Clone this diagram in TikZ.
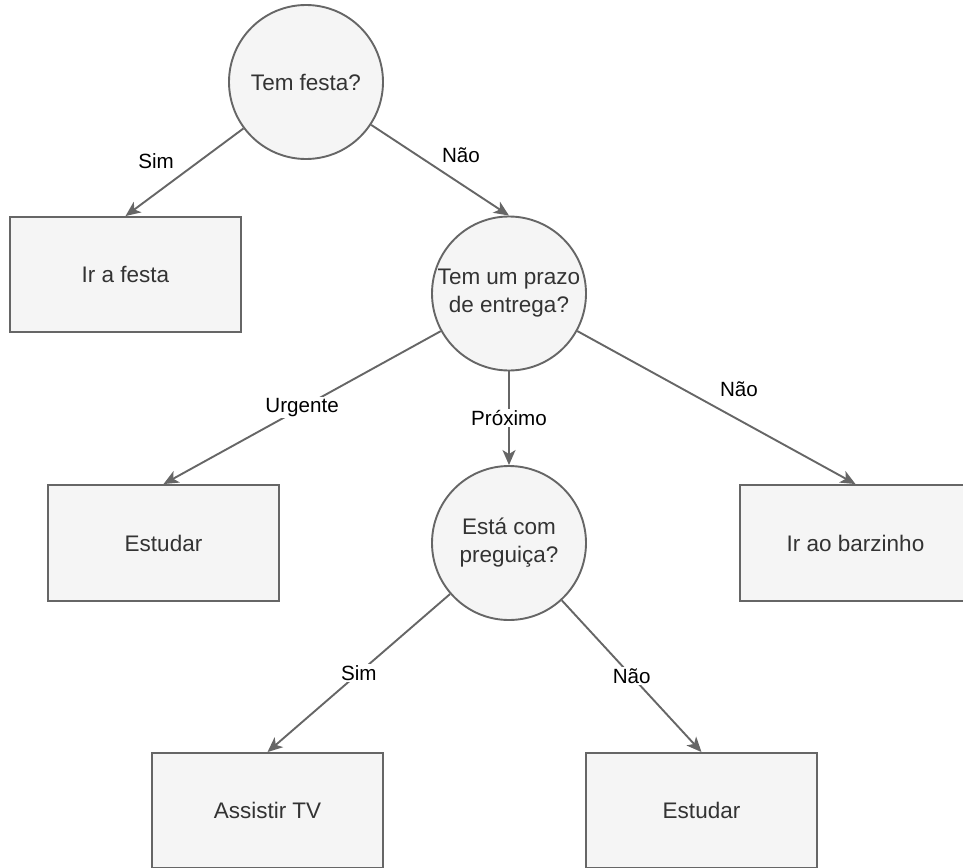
\documentclass[tikz,border=0pt]{standalone}
\usepackage{fontspec}
\setmainfont{Liberation Sans}
\usetikzlibrary{arrows.meta}
\definecolor{boxfill}{HTML}{F5F5F5}
\definecolor{boxline}{HTML}{666666}
\definecolor{boxtext}{HTML}{333333}
\tikzset{
  decision/.style={circle, draw=boxline, fill=boxfill, line width=1.9pt, minimum size=154pt, inner sep=0pt,
    text=boxtext, font=\fontsize{22.5pt}{28pt}\selectfont, align=center},
  action/.style={rectangle, draw=boxline, fill=boxfill, line width=1.9pt, minimum width=231pt, minimum height=115pt,
    inner sep=0pt, text=boxtext, font=\fontsize{22.5pt}{28pt}\selectfont, align=center},
  conn/.style={draw=boxline, line width=1.9pt, -{Stealth[length=15pt,width=13pt,inset=4pt]}},
  lbl/.style={text=black, font=\fontsize{20.6pt}{25pt}\selectfont, inner sep=1.5pt},
  onlbl/.style={lbl, fill=white}
}
\begin{document}
\begin{tikzpicture}[x=1pt,y=-1pt]
\useasboundingbox (0,0) rectangle (963,867);
\clip (0,0) rectangle (963,867);
\node[decision] (c1) at (306,82) {Tem festa?};
\node[action] (r1) at (125.5,274.5) {Ir a festa};
\node[decision] (c2) at (509,293.5) {Tem um prazo\\de entrega?};
\node[action, minimum height=116pt] (r2) at (163.5,543) {Estudar};
\node[decision] (c3) at (509,543) {Está com\\preguiça?};
\node[action, minimum height=116pt] (r3) at (855.5,543) {Ir ao barzinho};
\node[action] (r4) at (267.5,810.5) {Assistir TV};
\node[action] (r5) at (701.5,810.5) {Estudar};

\draw[conn] (c1) -- (r1.north);
\node[lbl] (l1) at (156,161) {Sim};
\draw[conn] (c1) -- (c2.north);
\node[lbl] (l2) at (461,155) {Não};
\draw[conn] (c2) -- node[onlbl, pos=0.5] (l3) {Urgente} (r2.north);
\draw[conn] (c2.south) -- node[onlbl, pos=0.5] (l4) {Próximo} (c3.north);
\draw[conn] (c2) -- (r3.north);
\node[lbl] (l5) at (739,389) {Não};
\draw[conn] (c3) -- node[onlbl, pos=0.5] (l6) {Sim} (r4.north);
\draw[conn] (c3) -- node[onlbl, pos=0.5] (l7) {Não} (r5.north);
\end{tikzpicture}
\end{document}
